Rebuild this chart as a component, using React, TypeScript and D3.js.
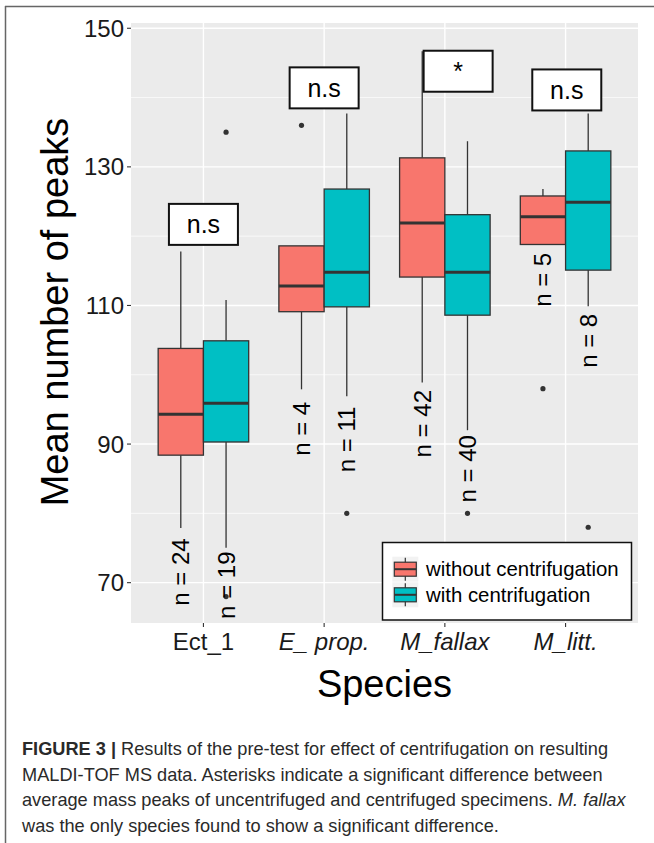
import React from "react";
import * as d3 from "d3";

const species = ["Ect_1", "E_ prop.", "M_fallax", "M_litt."];
const speciesItalic = [false, true, true, true];
const groups = ["without centrifugation", "with centrifugation"];
const groupColors = ["#F8766D", "#00BFC4"];

// without centrifugation
const woHigh = [117.8, 118.6, 146.7, 126.8];
const woQ3 = [103.8, 118.6, 131.3, 125.8];
const woMed = [94.3, 112.8, 121.9, 122.8];
const woQ1 = [88.4, 109.1, 114.1, 118.8];
const woLow = [77.9, 97.9, 98.9, 118.8];
const woOut = [[], [136], [69], [98]];
const woN = [24, 4, 42, 5];
const woNLabelY = [76.4, 96.1, 97.8, 117.6];

// with centrifugation
const wHigh = [110.8, 137.7, 133.7, 137.7];
const wQ3 = [104.9, 126.8, 123.1, 132.3];
const wMed = [95.9, 114.8, 114.8, 124.9];
const wQ1 = [90.3, 109.8, 108.6, 115.1];
const wLow = [75.05, 96.9, 92, 109.9];
const wOut = [[135, 68], [80], [80], [78]];
const wN = [19, 11, 40, 8];
const wNLabelY = [74.5, 95.4, 91.3, 108.8];

const sigLabels = ["n.s", "n.s", "*", "n.s"];
const sigY = [121.7, 141.4, 143.8, 141.1];
const sigXShift = [0, 0, 0.11, 0.01];

const yTicks = [70, 90, 110, 130, 150];
const yMinor = [80, 100, 120, 140];

const W = 654;
const H = 843;
const panel = { left: 131, right: 638, top: 23, bottom: 623 };
const FONT = "'Liberation Sans', Arial, Helvetica, sans-serif";

export default function App() {
  // ggplot discrete: expand 0.6 on each side -> step = width/4.2
  const x = d3
    .scalePoint<string>()
    .domain(species)
    .range([panel.left, panel.right])
    .padding(0.6 / 1.5 * 1.5 / 1);
  const step = (panel.right - panel.left) / 4.2;
  const cx = (i: number) => panel.left + (0.6 + i) * step;
  void x;
  const y = d3.scaleLinear().domain([64.18, 150.76]).range([panel.bottom, panel.top]);
  const boxW = 0.375 * step;

  const series = [
    { high: woHigh, q3: woQ3, med: woMed, q1: woQ1, low: woLow, out: woOut, n: woN, ny: woNLabelY },
    { high: wHigh, q3: wQ3, med: wMed, q1: wQ1, low: wLow, out: wOut, n: wN, ny: wNLabelY },
  ];

  const boxes: React.ReactNode[] = [];
  const nLabels: React.ReactNode[] = [];
  series.forEach((s, g) => {
    species.forEach((sp, i) => {
      const center = cx(i) + (g === 0 ? -boxW / 2 : boxW / 2);
      const x0 = center - boxW / 2;
      boxes.push(
        <g key={`b-${g}-${i}`}>
          <line x1={center} x2={center} y1={y(s.high[i])} y2={y(s.q3[i])} stroke="#333" strokeWidth={1.3} />
          <line x1={center} x2={center} y1={y(s.q1[i])} y2={y(s.low[i])} stroke="#333" strokeWidth={1.3} />
          <rect
            x={x0}
            y={y(s.q3[i])}
            width={boxW}
            height={y(s.q1[i]) - y(s.q3[i])}
            fill={groupColors[g]}
            stroke="#333"
            strokeWidth={1.3}
          />
          <line x1={x0} x2={x0 + boxW} y1={y(s.med[i])} y2={y(s.med[i])} stroke="#333" strokeWidth={3} />
          {s.out[i].map((o, k) => (
            <circle key={k} cx={center} cy={y(o)} r={2.6} fill="#333" />
          ))}
        </g>
      );
      nLabels.push(
        <text
          key={`n-${g}-${i}`}
          transform={`translate(${center + 8.5},${y(s.ny[i])}) rotate(-90)`}
          textAnchor="end"
          fontSize={24}
          fontFamily={FONT}
          fill="#000"
        >
          {`n = ${s.n[i]}`}
        </text>
      );
    });
  });

  const captionY = 755;
  const lh = 25.5;

  return (
    <svg width={W} height={H} style={{ position: "absolute", left: 0, top: 0 }}>
      <rect x={0} y={0} width={W} height={H} fill="#fff" />
      {/* frame */}
      <line x1={5.5} x2={5.5} y1={6} y2={H} stroke="#666" strokeWidth={1.5} />
      <line x1={5} x2={W} y1={6.5} y2={6.5} stroke="#666" strokeWidth={1.5} />

      {/* panel */}
      <rect x={panel.left} y={panel.top} width={panel.right - panel.left} height={panel.bottom - panel.top} fill="#EBEBEB" />
      {yMinor.map((v) => (
        <line key={`mi${v}`} x1={panel.left} x2={panel.right} y1={y(v)} y2={y(v)} stroke="#fff" strokeWidth={0.7} />
      ))}
      {yTicks.map((v) => (
        <line key={`ma${v}`} x1={panel.left} x2={panel.right} y1={y(v)} y2={y(v)} stroke="#fff" strokeWidth={1.4} />
      ))}
      {species.map((sp, i) => (
        <line key={`vx${i}`} x1={cx(i)} x2={cx(i)} y1={panel.top} y2={panel.bottom} stroke="#fff" strokeWidth={1.4} />
      ))}

      {boxes}
      {nLabels}

      {/* significance labels */}
      {sigLabels.map((l, i) => {
        const c = cx(i + sigXShift[i]);
        const cyy = y(sigY[i]);
        return (
          <g key={`s${i}`}>
            <rect x={c - 34.5} y={cyy - 20.5} width={69} height={41} fill="#fff" stroke="#111" strokeWidth={2} />
            <text x={c} y={cyy + 9} textAnchor="middle" fontSize={25} fontFamily={FONT} fill="#000">
              {l}
            </text>
          </g>
        );
      })}

      {/* y axis */}
      {yTicks.map((v) => (
        <g key={`yt${v}`}>
          <line x1={127} x2={panel.left} y1={y(v)} y2={y(v)} stroke="#333" strokeWidth={1.1} />
          <text x={124} y={y(v) + 8.5} textAnchor="end" fontSize={24} fontFamily={FONT} fill="#1a1a1a">
            {v}
          </text>
        </g>
      ))}
      {/* x axis */}
      {species.map((sp, i) => (
        <g key={`xt${i}`}>
          <line x1={cx(i)} x2={cx(i)} y1={panel.bottom} y2={panel.bottom + 4} stroke="#333" strokeWidth={1.1} />
          <text
            x={cx(i)}
            y={650}
            textAnchor="middle"
            fontSize={24}
            fontFamily={FONT}
            fontStyle={speciesItalic[i] ? "italic" : "normal"}
            fill="#1a1a1a"
          >
            {sp}
          </text>
        </g>
      ))}
      <text x={(panel.left + panel.right) / 2} y={697} textAnchor="middle" fontSize={38} fontFamily={FONT} fill="#000">
        Species
      </text>
      <text
        transform={`translate(${68},${312}) rotate(-90)`}
        textAnchor="middle"
        fontSize={38}
        fontFamily={FONT}
        fill="#000"
      >
        Mean number of peaks
      </text>

      {/* legend */}
      <rect x={382.5} y={542.5} width={249} height={77.5} fill="#fff" stroke="#111" strokeWidth={1.5} />
      {groups.map((gname, g) => {
        const ky = 556.7 + g * 25.6;
        const kx = 392.3;
        return (
          <g key={`lg${g}`}>
            <rect x={kx} y={ky} width={26} height={25} fill="#F2F2F2" />
            <line x1={kx + 13} x2={kx + 13} y1={ky + 1} y2={ky + 24} stroke="#333" strokeWidth={1.2} />
            <rect x={kx + 2} y={ky + 5.5} width={22} height={14} fill={groupColors[g]} stroke="#333" strokeWidth={1.2} />
            <line x1={kx + 2} x2={kx + 24} y1={ky + 12.5} y2={ky + 12.5} stroke="#333" strokeWidth={2} />
            <text x={426} y={ky + 19.5} fontSize={20.4} fontFamily={FONT} fill="#000">
              {gname}
            </text>
          </g>
        );
      })}

      {/* caption */}
      <g fontFamily={FONT} fontSize={18.2} fill="#2a2a2a">
        <text x={22} y={captionY}>
          <tspan fontWeight="bold">FIGURE 3 | </tspan>
          Results of the pre-test for effect of centrifugation on resulting
        </text>
        <text x={22} y={captionY + lh}>
          MALDI-TOF MS data. Asterisks indicate a significant difference between
        </text>
        <text x={22} y={captionY + 2 * lh}>
          average mass peaks of uncentrifuged and centrifuged specimens. <tspan fontStyle="italic">M. fallax</tspan>
        </text>
        <text x={22} y={captionY + 3 * lh}>
          was the only species found to show a significant difference.
        </text>
      </g>
    </svg>
  );
}
